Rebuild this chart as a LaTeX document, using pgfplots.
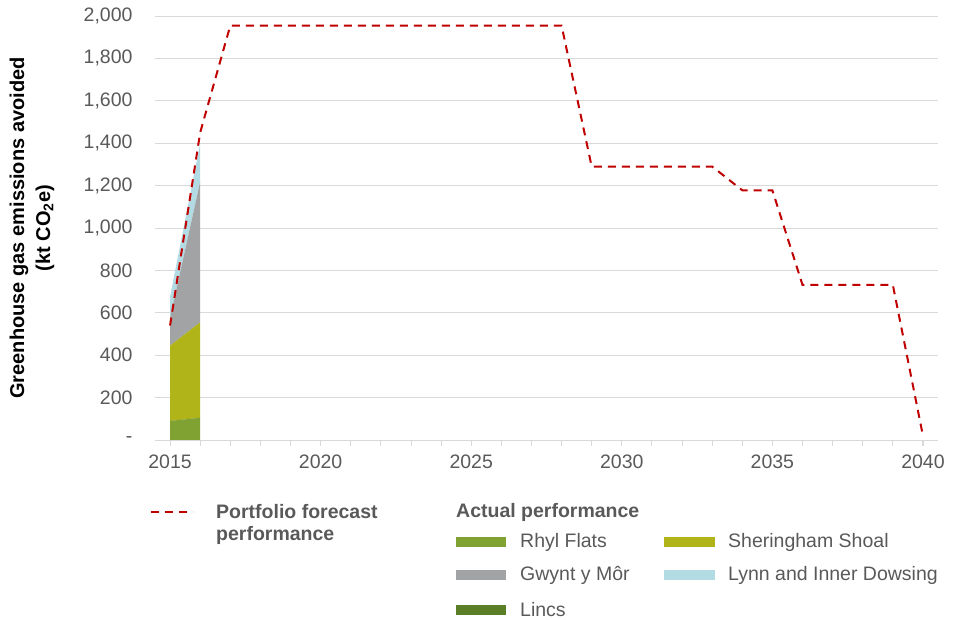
\documentclass[border=0pt]{standalone}
\usepackage{pgfplots}
\pgfplotsset{compat=1.18}
\usepackage{fontspec}
\setmainfont{Liberation Sans}
\definecolor{txt}{HTML}{595959}
\definecolor{gridc}{HTML}{D9D9D9}
\definecolor{fred}{HTML}{C00000}
\definecolor{rhyl}{HTML}{7FA233}
\definecolor{sher}{HTML}{B0B418}
\definecolor{gwynt}{HTML}{A1A3A5}
\definecolor{lynn}{HTML}{B2DBE3}
\definecolor{lincs}{HTML}{5B7F27}
\pgfplotsset{common/.style={scale only axis, width=783pt, height=424pt,
  xmin=2014.5, xmax=2040.5, ymin=0, ymax=2000}}
\begin{document}
\begin{tikzpicture}[font=\fontsize{19.5}{23}\selectfont]
\begin{axis}[common, stack plots=y,
  axis x line*=bottom, axis y line*=left,
  x axis line style={draw=gridc, line width=0.8pt},
  y axis line style={draw=none},
  xtick={2015,2020,2025,2030,2035,2040},
  xticklabels={2015,2020,2025,2030,2035,2040},
  minor xtick={2015,...,2040},
  xtick style={draw=gridc, line width=0.8pt},
  tick align=outside,
  major tick length=6pt, minor tick length=6pt,
  ytick={0,200,...,2000},
  yticklabels={-,200,400,600,800,{1,000},{1,200},{1,400},{1,600},{1,800},{2,000}},
  ytick style={draw=none},
  ymajorgrids, grid style={draw=gridc, line width=0.8pt},
  ticklabel style={text=txt},
  yticklabel style={xshift=-13pt},
  xticklabel style={yshift=-5pt},
  ylabel={Greenhouse gas emissions avoided\\(kt CO\textsubscript{2}e)},
  ylabel style={at={(axis description cs:-0.157,0.5)}, anchor=center, align=center,
    font=\bfseries\fontsize{20}{26}\selectfont, text=black},
]
\addplot[fill=rhyl, draw=none] coordinates {(2015,90) (2016,105)} \closedcycle;
\addplot[fill=lincs, draw=none] coordinates {(2015,0) (2016,0)} \closedcycle;
\addplot[fill=sher, draw=none] coordinates {(2015,355) (2016,450)} \closedcycle;
\addplot[fill=gwynt, draw=none] coordinates {(2015,130) (2016,663)} \closedcycle;
\addplot[fill=lynn, draw=none] coordinates {(2015,100) (2016,182)} \closedcycle;
\end{axis}
\begin{axis}[common, hide axis]
\addplot[fred, line width=2pt, dash pattern=on 8pt off 6pt] coordinates {
 (2015,540) (2016,1450) (2017,1955) (2028,1955) (2029,1290) (2033,1290)
 (2034,1178) (2035,1178) (2036,732) (2039,732) (2040,20)};
\end{axis}
% legend
\draw[fred, line width=2pt, dash pattern=on 8pt off 6pt] (-4pt,-72pt) -- (38pt,-72pt);
\node[anchor=west, text=txt, font=\bfseries\fontsize{19.5}{23}\selectfont, inner sep=0pt] at (61pt,-72pt) {Portfolio forecast};
\node[anchor=west, text=txt, font=\bfseries\fontsize{19.5}{23}\selectfont, inner sep=0pt] at (61pt,-95pt) {performance};
\node[anchor=west, text=txt, font=\bfseries\fontsize{19.5}{23}\selectfont, inner sep=0pt] at (301pt,-72pt) {Actual performance};
\fill[rhyl] (301pt,-107pt) rectangle (351pt,-97pt);
\node[anchor=west, text=txt, inner sep=0pt] at (365pt,-102pt) {Rhyl Flats};
\fill[gwynt] (301pt,-140pt) rectangle (351pt,-130pt);
\node[anchor=west, text=txt, inner sep=0pt] at (365pt,-135pt) {Gwynt y Môr};
\fill[lincs] (301pt,-175pt) rectangle (351pt,-165pt);
\node[anchor=west, text=txt, inner sep=0pt] at (365pt,-170pt) {Lincs};
\fill[sher] (509pt,-107pt) rectangle (560pt,-97pt);
\node[anchor=west, text=txt, inner sep=0pt] at (573pt,-102pt) {Sheringham Shoal};
\fill[lynn] (509pt,-140pt) rectangle (560pt,-130pt);
\node[anchor=west, text=txt, inner sep=0pt] at (573pt,-135pt) {Lynn and Inner Dowsing};
\pgfresetboundingbox
\path[use as bounding box] (-155pt,-180pt) rectangle (804pt,440pt);
\end{tikzpicture}
\end{document}
